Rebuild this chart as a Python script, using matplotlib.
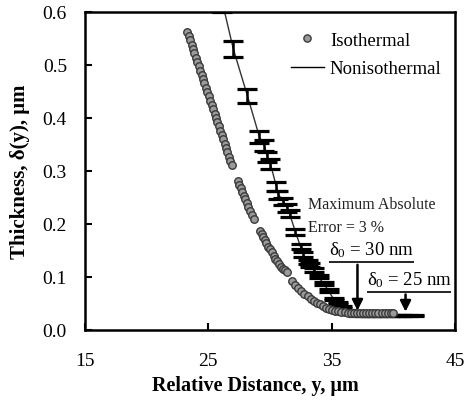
import numpy as np
import matplotlib.pyplot as plt
from matplotlib.lines import Line2D

plt.rcParams['font.family'] = ['Liberation Serif', 'DejaVu Serif']
plt.rcParams['mathtext.fontset'] = 'custom'
plt.rcParams['mathtext.rm'] = 'Liberation Serif'
plt.rcParams['mathtext.it'] = 'Liberation Serif:italic'

# isothermal model (circles)
iso_x = [23.30, 23.42, 23.53, 23.65, 23.77, 23.88, 24.00, 24.11, 24.23, 24.35,
         24.46, 24.58, 24.69, 24.81, 24.93, 25.04, 25.16, 25.27, 25.39, 25.51,
         25.62, 25.74, 25.85, 25.97, 26.09, 26.20, 26.32, 26.43, 26.55, 26.67,
         26.78, 26.90,
         27.40, 27.52, 27.64, 27.76, 27.88, 28.00, 28.13, 28.26, 28.40, 28.55, 28.70,
         29.20, 29.32, 29.45, 29.58, 29.72, 29.86, 30.00, 30.14, 30.29, 30.44,
         30.59, 30.75, 30.91, 31.07, 31.23, 31.40,
         31.80, 32.05, 32.30, 32.55, 32.80, 33.05, 33.30, 33.55, 33.80, 34.05,
         34.30, 34.55, 34.80, 35.05, 35.30, 35.55, 35.80, 36.05, 36.30, 36.55,
         36.80, 37.05, 37.30, 37.55, 37.80, 38.05, 38.30, 38.55, 38.80, 39.05,
         39.30, 39.55, 39.80, 40.00]
iso_y = [0.562, 0.554, 0.546, 0.538, 0.530, 0.522, 0.513, 0.505, 0.497, 0.489,
         0.481, 0.473, 0.465, 0.457, 0.449, 0.441, 0.432, 0.424, 0.416, 0.408,
         0.400, 0.392, 0.384, 0.376, 0.368, 0.360, 0.351, 0.343, 0.335, 0.327,
         0.319, 0.311,
         0.281, 0.274, 0.267, 0.260, 0.253, 0.246, 0.239, 0.231, 0.224, 0.216, 0.209,
         0.187, 0.181, 0.175, 0.169, 0.163, 0.157, 0.152, 0.146, 0.140, 0.134,
         0.129, 0.124, 0.119, 0.115, 0.112, 0.109,
         0.092, 0.085, 0.079, 0.073, 0.068, 0.063, 0.059, 0.055, 0.051, 0.048,
         0.045, 0.042, 0.040, 0.038, 0.036, 0.035, 0.034, 0.033, 0.032, 0.032,
         0.031, 0.031, 0.031, 0.031, 0.031, 0.031, 0.031, 0.031, 0.031, 0.031,
         0.031, 0.031, 0.031, 0.031]

# nonisothermal model (line with error bars)
non_x = [26.14, 27.03, 28.17, 29.15, 29.55, 29.80, 30.04, 30.53, 30.69, 31.10,
         31.42, 31.59, 32.07, 32.48, 32.72, 33.05, 33.29, 33.54, 33.94, 34.35,
         34.76, 35.16, 35.49, 35.81, 36.22, 36.71, 37.20, 37.70, 38.20, 38.70,
         39.20, 39.70, 40.20, 40.70, 41.20, 41.70]
non_y = [0.618, 0.530, 0.442, 0.364, 0.347, 0.326, 0.313, 0.270, 0.255, 0.242,
         0.230, 0.219, 0.185, 0.157, 0.142, 0.128, 0.123, 0.113, 0.100, 0.087,
         0.074, 0.058, 0.051, 0.043, 0.036, 0.030, 0.027, 0.027, 0.027, 0.027,
         0.027, 0.027, 0.027, 0.027, 0.027, 0.027]
max_err = 0.03  # Maximum Absolute Error = 3 %

fig = plt.figure(figsize=(4.67, 4.02), dpi=100)
ax = fig.add_axes([0.182, 0.177, 0.792, 0.791])

ax.plot(non_x, non_y, color='#333333', lw=1.0, zorder=2)
ax.errorbar(non_x, non_y, yerr=max_err * np.array(non_y), fmt='none',
            ecolor='black', elinewidth=1.8, capsize=7.5, capthick=2.3, zorder=3)
ax.plot(iso_x, iso_y, 'o', ms=5.4, mfc='#9a9a9a', mec='#3a3a3a', mew=1.0, zorder=4)

# annotations
ax.text(33.05, 0.238, 'Maximum Absolute', fontsize=11.5, va='center', color='#222222')
ax.text(33.05, 0.194, 'Error = 3 %', fontsize=11.5, va='center', color='#222222')
ax.text(34.8, 0.133, r'δ$_0$ = 30 nm', fontsize=13.5, va='bottom')
ax.text(37.85, 0.077, r'δ$_0$ = 25 nm', fontsize=13.5, va='bottom')
ax.hlines(0.128, 34.76, 41.67, color='black', lw=1.2)
ax.hlines(0.072, 37.85, 44.67, color='black', lw=1.2)
ax.annotate('', xy=(37.1, 0.031), xytext=(37.1, 0.128),
            arrowprops=dict(arrowstyle='-|>', color='black', lw=1.8, mutation_scale=16))
ax.annotate('', xy=(41.0, 0.029), xytext=(41.0, 0.072),
            arrowprops=dict(arrowstyle='-|>', color='black', lw=1.8, mutation_scale=16))

handles = [Line2D([], [], ls='none', marker='o', ms=5.2, mfc='#9a9a9a', mec='#3a3a3a'),
           Line2D([], [], color='black', lw=1.0)]
ax.legend(handles, ['Isothermal', 'Nonisothermal'], loc='upper right',
          bbox_to_anchor=(1.01, 0.99), frameon=False, fontsize=13.5,
          handlelength=1.8, handletextpad=0.3, labelspacing=0.6)

ax.set_xlim(15, 45)
ax.set_ylim(0, 0.6)
ax.set_xticks([15, 25, 35, 45])
ax.set_yticks(np.arange(0, 0.61, 0.1))
ax.yaxis.set_major_formatter(plt.FormatStrFormatter('%.1f'))
ax.tick_params(direction='in', length=5, width=1.5, labelsize=14,
               top=False, right=False)
ax.tick_params(axis='x', pad=16)
ax.tick_params(axis='y', pad=13)
for s in ax.spines.values():
    s.set_linewidth(1.8)

ax.set_xlabel('Relative Distance, y, μm', fontsize=14.5, fontweight='bold')
ax.set_ylabel('Thickness, δ(y), μm', fontsize=15, fontweight='bold')
ax.xaxis.set_label_coords(0.46, -0.142)
ax.yaxis.set_label_coords(-0.15, 0.5)

fig.savefig('out.png', dpi=100)
